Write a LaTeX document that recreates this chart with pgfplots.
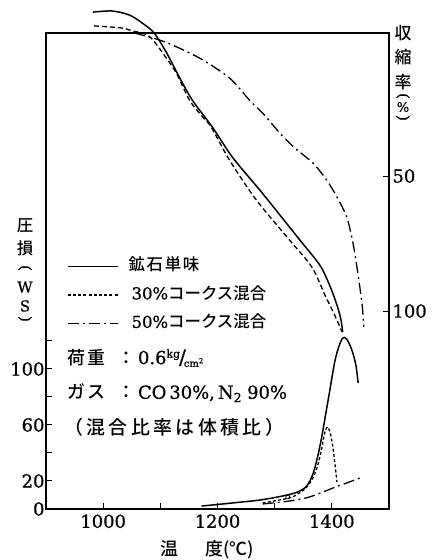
\documentclass[border=0pt]{standalone}
\usepackage{fontspec}
\setmainfont{DejaVu Serif}[FakeBold=0.8]
\newfontfamily\jp{Noto Sans CJK JP Medium}
\usepackage{pgfplots}
\pgfplotsset{compat=1.18}
\tikzset{
  sol/.style={black, line width=1.5bp},
  dsh/.style={black, line width=1.3bp, dash pattern=on 5bp off 3bp},
  dshs/.style={black, line width=1.3bp, dash pattern=on 3bp off 2.2bp},
  dd/.style={black, line width=1.3bp, dash pattern=on 11bp off 4bp on 2bp off 4bp},
}
\begin{document}
\begin{tikzpicture}
\path[use as bounding box] (0bp,0bp) rectangle (437bp,560bp);
% ---- lower: pressure loss (left axis)
\begin{axis}[
  at={(46bp,51bp)}, anchor=south west, scale only axis,
  width=343bp, height=476bp,
  xmin=900, xmax=1500, ymin=0, ymax=340,
  tick pos=left, tick align=inside,
  xtick={1000,1100,1200,1300,1400}, xticklabels={1000,,1200,,1400},
  ytick={0,20,40,60,80,100,120}, yticklabels={0,20,,60,,100,},
  major tick length=6bp,
  tick style={black, line width=1bp},
  axis line style={line width=1.5bp},
  /pgf/number format/assume math mode=true,
  ticklabel style={font=\fontsize{18}{18}\selectfont},
  xticklabel style={yshift=-2bp},
  yticklabel style={xshift=2bp},
  clip=false,
  legend image code/.code={\draw[#1] (0bp,0bp) -- (50bp,0bp);},
  legend cell align=left,
  legend style={draw=none, fill=none, inner sep=0pt,
    at={(axis description cs:0.061,0.527)}, anchor=north west,
    font=\fontsize{16.5}{16.5}\selectfont, row sep=12bp,
    nodes={inner sep=0pt, text height=12.5bp, text depth=4bp},
    /tikz/every even column/.append style={column sep=12bp}},
]
\addplot[sol, smooth, tension=0.5] coordinates {
(1172,2.1) (1226,4.3) (1274,6.4) (1314,9.3) (1340,12.1) (1356,16.4)
(1367,25) (1375,37.1) (1382,50.7) (1389,67.1) (1396,83.6) (1405,105)
(1412,115.7) (1419,122.1) (1426,121.4) (1435,113.6) (1442,102.9) (1446,90)};
\addlegendentry{\hspace{10bp}{\jp\addfontfeature{LetterSpace=10}鉱石単味}}
\addplot[dshs, smooth, tension=0.5] coordinates {
(1279,4.3) (1326,7.9) (1340,10.7) (1353,14.3) (1365,20.7) (1374,29.3)
(1381,40.7) (1386,51.4) (1389,56.4) (1393,58.6) (1398,52.9) (1402,43.6)
(1405,33.6) (1409,19.3)};
\addlegendentry{\hspace{13bp}30\%{\jp コークス混合}}
\addplot[dd, smooth, tension=0.5] coordinates {
(1279,3.6) (1326,5.7) (1361,8.6) (1402,15) (1426,18.6) (1449,22.1)};
\addlegendentry{\hspace{13bp}50\%{\jp コークス混合}}
\addplot[only marks, mark=o, mark size=2bp, black, line width=0.8bp, forget plot] coordinates {(1323,8.6)};
\end{axis}
% ---- upper: shrinkage (right axis, reversed)
\begin{axis}[
  at={(46bp,51bp)}, anchor=south west, scale only axis,
  width=343bp, height=476bp,
  xmin=900, xmax=1500, ymin=-2.96, ymax=173.3, y dir=reverse,
  axis x line=none, axis y line*=right,
  tick align=inside,
  ytick={50,100},
  major tick length=6bp,
  tick style={black, line width=1bp},
  axis line style={line width=1.5bp, -},
  /pgf/number format/assume math mode=true,
  ticklabel style={font=\fontsize{18}{18}\selectfont},
  clip=false,
]
\addplot[sol, smooth, tension=0.5] coordinates {
(982,-10.7) (1016,-11.1) (1046,-9.6) (1068,-6.7) (1089,-3.0) (1111,4.4)
(1133,13.3) (1156,21.9) (1191,31.9) (1226,43) (1274,55.2) (1309,64.4)
(1344,73.7) (1379,83) (1396,90.4) (1409,97.8) (1416,103.3) (1419,107.8)};
\addplot[dsh, smooth, tension=0.5] coordinates {
(984,-5.6) (1033,-4.8) (1051,-3.7) (1068,-3.0) (1084,-1.1) (1104,4.4)
(1128,11.9) (1151,21.9) (1174,28.1) (1189,31.9) (1221,44.1) (1268,58.9)
(1326,73.7) (1365,83.7) (1388,94.1) (1405,101.5) (1418,107.8)};
\addplot[dd, smooth, tension=0.5] coordinates {
(1054,-3) (1098,-0.4) (1133,2.6) (1174,7) (1221,13.7) (1256,21.9)
(1282,27.4) (1309,34.1) (1335,39.6) (1367,45.2) (1391,51.5) (1409,57.8)
(1426,65.2) (1437,74.8) (1446,86.7) (1453,97.8) (1456,105.9)};
\end{axis}
% ---- texts
\node[anchor=west, inner sep=0pt, font=\fontsize{18}{18}\selectfont] at (67bp,202bp)
  {{\jp 荷\hspace{2bp}重}\hspace{12bp}{\jp ：}\hspace{3bp}0.6\raisebox{0.7ex}{\fontsize{11}{11}\selectfont kg}\kern-1bp{\fontsize{20}{20}\selectfont/}\kern-2bp\raisebox{-0.3ex}{\fontsize{10}{10}\selectfont cm\textsuperscript{2}}};
\node[anchor=west, inner sep=0pt, font=\fontsize{18}{18}\selectfont] at (67bp,167bp)
  {{\jp ガ\hspace{2bp}ス}\hspace{12bp}{\jp ：}\hspace{3bp}CO\,30\%,\hspace{3bp}N\textsubscript{2}\hspace{5bp}90\%};
\node[anchor=west, inner sep=0pt, font=\fontsize{19}{19}\selectfont] at (64bp,133bp)
  {{\jp\addfontfeature{LetterSpace=18}（混合比率は体積比）}};
% left label (vertical)
\begin{scope}[every node/.style={inner sep=0pt}]
\node[font=\jp\fontsize{16.5}{16.5}\selectfont] at (25bp,334bp) {圧};
\node[font=\jp\fontsize{16.5}{16.5}\selectfont] at (25bp,312bp) {損};
\node[font=\fontsize{15}{15}\selectfont, rotate=-90] at (25bp,292bp) {(};
\node[font=\fontsize{15}{15}\selectfont] at (25bp,273bp) {W};
\node[font=\fontsize{15}{15}\selectfont] at (25bp,254bp) {S};
\node[font=\fontsize{15}{15}\selectfont, rotate=-90] at (25bp,241bp) {)};
\end{scope}
% right label (vertical)
\begin{scope}[every node/.style={inner sep=0pt}]
\node[font=\jp\fontsize{17}{17}\selectfont] at (403bp,527bp) {収};
\node[font=\jp\fontsize{17}{17}\selectfont] at (403bp,503bp) {縮};
\node[font=\jp\fontsize{17}{17}\selectfont] at (403bp,478bp) {率};
\node[font=\fontsize{15}{15}\selectfont, rotate=-90] at (403bp,464bp) {(};
\node[font=\fontsize{13}{13}\selectfont] at (403bp,453bp) {\%};
\node[font=\fontsize{15}{15}\selectfont, rotate=-90] at (403bp,442bp) {)};
\end{scope}
% x label
\node[anchor=west, inner sep=0pt, font=\jp\fontsize{18}{18}\selectfont] at (160bp,10bp)
  {温\hspace{27bp}度(℃)};
\end{tikzpicture}
\end{document}
